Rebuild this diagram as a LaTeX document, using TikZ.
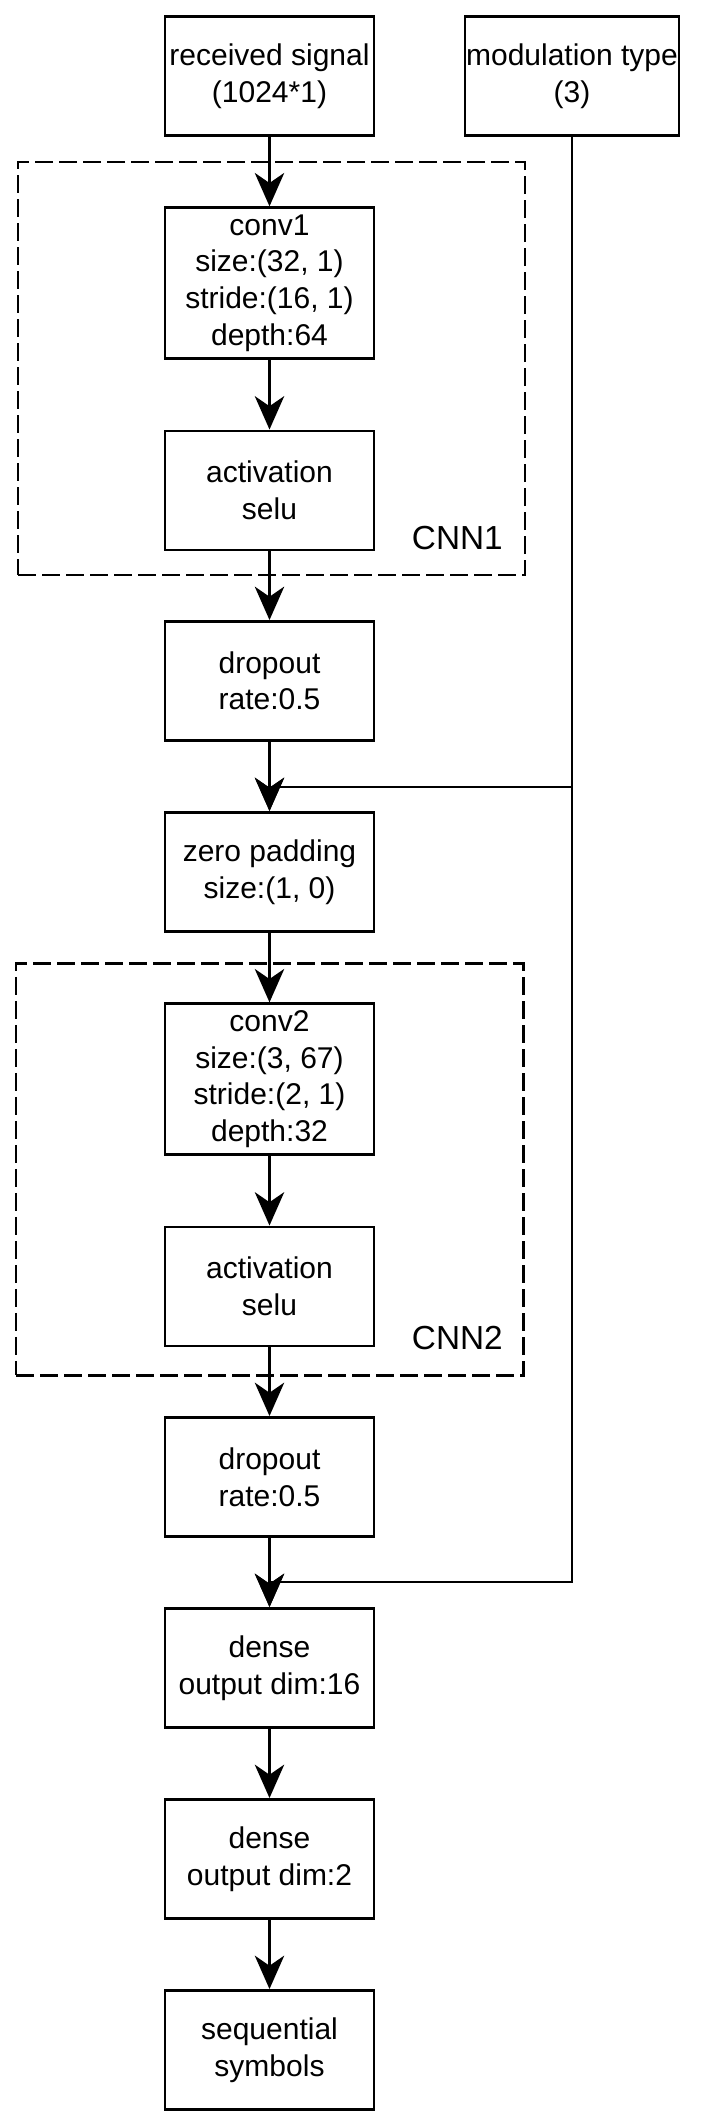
\documentclass[tikz,border=0pt]{standalone}
\usepackage{fontspec}
\setmainfont{Liberation Sans}
\usetikzlibrary{arrows.meta}
\begin{document}
\begin{tikzpicture}[x=0.75pt,y=-0.75pt,
  box/.style={draw, line width=2.2pt, minimum width=156.75pt, minimum height=89.25pt, inner sep=0pt, align=center, font=\fontsize{22.5pt}{27.4pt}\selectfont},
  tallbox/.style={box, minimum height=112.8pt},
  arr/.style={line width=2.2pt, -{Stealth[length=25pt,width=22pt,inset=7.5pt]}},
  group/.style={draw, line width=2.2pt, dash pattern=on 13.5pt off 4.5pt, inner sep=0pt},
  grplabel/.style={anchor=base east, inner sep=0pt, font=\fontsize{25pt}{30pt}\selectfont}]
\useasboundingbox (0,0) rectangle (702,2127);
% groups
\node[group, minimum width=380.25pt, minimum height=309.75pt] (cnn1) at (271.5,368.5) {};
\node[group, minimum width=380.6pt, minimum height=308.8pt] (cnn2) at (269.75,1169.35) {};
\node[grplabel] (l1) at (503,549) {CNN1};
\node[grplabel] (l2) at (503,1349) {CNN2};
% boxes
\node[box] (recv) at (269.5,76) {received signal\\(1024*1)};
\node[box, minimum width=160.5pt] (mod) at (572,76) {modulation type\\(3)};
\node[tallbox] (conv1) at (269.5,283) {conv1\\size:(32, 1)\\stride:(16, 1)\\depth:64};
\node[box] (act1) at (269.5,490.5) {activation\\selu};
\node[box] (drop1) at (269.5,681) {dropout\\rate:0.5};
\node[box] (zero) at (269.5,872) {zero padding\\size:(1, 0)};
\node[tallbox] (conv2) at (269.5,1079) {conv2\\size:(3, 67)\\stride:(2, 1)\\depth:32};
\node[box] (act2) at (269.5,1286.5) {activation\\selu};
\node[box] (drop2) at (269.5,1477) {dropout\\rate:0.5};
\node[box] (dense1) at (269.5,1668) {dense\\output dim:16};
\node[box] (dense2) at (269.5,1859) {dense\\output dim:2};
\node[box] (seq) at (269.5,2050) {sequential\\symbols};
% connectors
\coordinate (j1) at (269.5,787);
\coordinate (j2) at (269.5,1582);
\draw[arr] (recv) -- (conv1);
\draw[arr] (conv1) -- (act1);
\draw[arr] (act1) -- (drop1);
\draw[arr] (drop1) -- (zero);
\draw[arr] (zero) -- (conv2);
\draw[arr] (conv2) -- (act2);
\draw[arr] (act2) -- (drop2);
\draw[arr] (drop2) -- (dense1);
\draw[arr] (dense1) -- (dense2);
\draw[arr] (dense2) -- (seq);
\draw[arr] (mod.south) |- (j1) -- (zero.north);
\draw[arr] (mod.south) |- (j2) -- (dense1.north);
\end{tikzpicture}
\end{document}
